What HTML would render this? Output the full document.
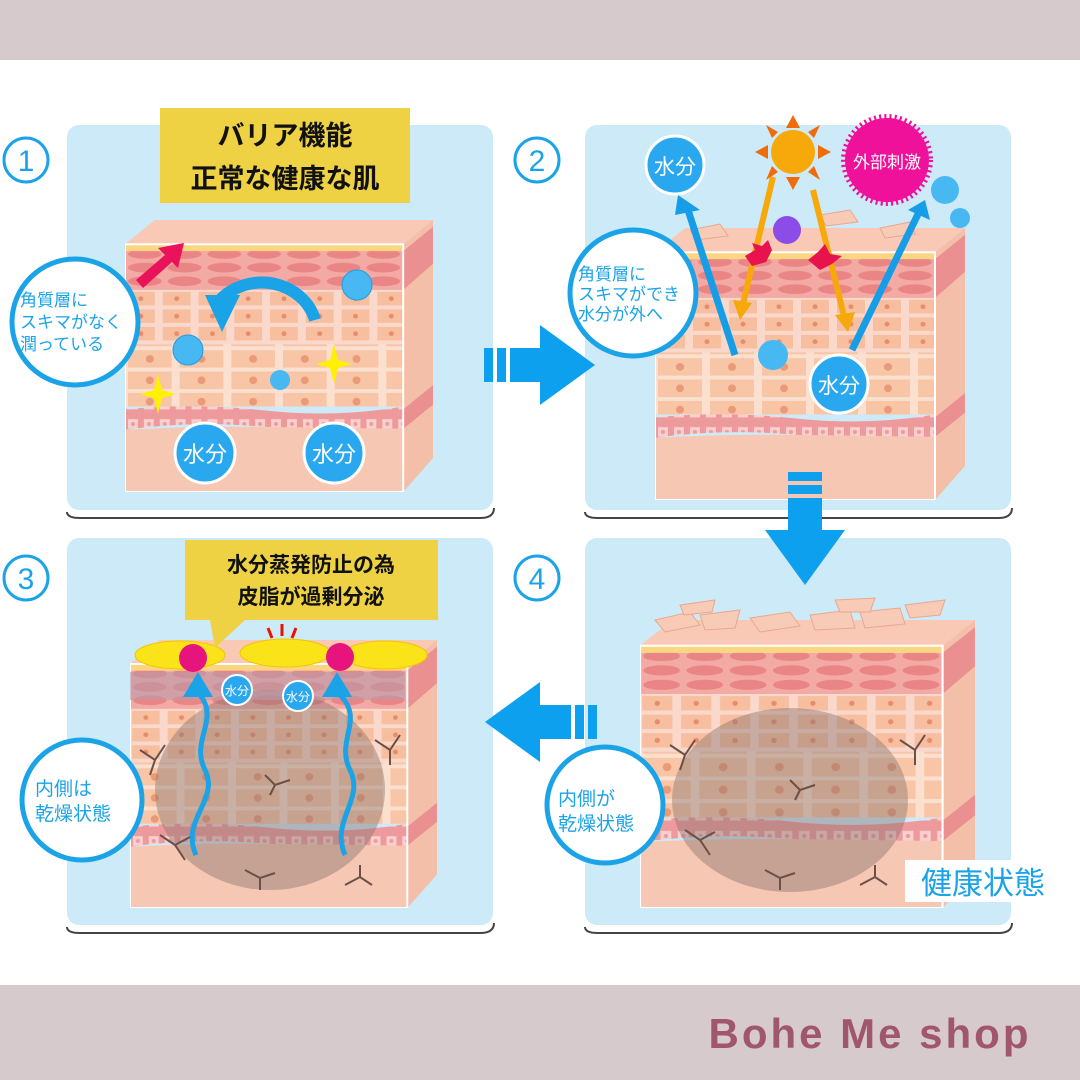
<!DOCTYPE html>
<html><head><meta charset="utf-8"><style>
html,body{margin:0;padding:0;width:1080px;height:1080px;overflow:hidden;background:#fff;font-family:"Liberation Sans","Noto Sans CJK JP",sans-serif}
</style></head><body>
<svg width="1080" height="1080" viewBox="0 0 1080 1080" xmlns="http://www.w3.org/2000/svg" font-family="'Liberation Sans','Noto Sans CJK JP',sans-serif">
<defs>
<pattern id="ov" width="40" height="14" patternUnits="userSpaceOnUse">
<rect width="40" height="14" fill="#f4aaa4"/>
<ellipse cx="20" cy="7" rx="17" ry="5" fill="#ea8585"/>
</pattern>
<pattern id="br" width="36" height="18" patternUnits="userSpaceOnUse">
<rect width="36" height="18" fill="#fad9cc"/>
<rect x="2" y="2" width="28" height="14" fill="#f7bf9f"/>
<circle cx="16" cy="9" r="2.5" fill="#e98c6e"/>
</pattern>
<pattern id="ce" width="52" height="22" patternUnits="userSpaceOnUse">
<rect width="52" height="22" fill="#fbe0d0"/>
<rect x="3" y="2" width="44" height="18" fill="#f8c6a6"/>
<circle cx="25" cy="11" r="4" fill="#eb9a78"/>
</pattern>
<pattern id="ba" width="16" height="20" patternUnits="userSpaceOnUse">
<rect width="16" height="20" fill="#ee9a9c"/>
<rect x="3" y="5" width="10" height="10" fill="#f9cfcf"/>
<circle cx="8" cy="10" r="2" fill="#ec9a9a"/>
</pattern>
<symbol id="skin" viewBox="0 0 310 280" preserveAspectRatio="none">
<polygon points="0,25 280,25 310,0 30,0" fill="#f9c9b6"/>
<rect x="0" y="25" width="280" height="7" fill="#fad681"/>
<rect x="0" y="32" width="280" height="40" fill="url(#ov)"/>
<rect x="0" y="72" width="280" height="56" fill="url(#br)"/>
<rect x="0" y="128" width="280" height="64" fill="url(#ce)"/>
<path d="M0,195 Q70,188 140,196 T280,192 L280,215 Q210,220 140,213 T0,216 Z" fill="url(#ba)"/>
<path d="M0,216 Q70,212 140,213 T280,215 L280,280 L0,280 Z" fill="#f6c7b2"/>
<polygon points="280,25 310,0 310,245 280,280" fill="#f4bfa8"/>
<polygon points="280,32 310,7 310,45 280,72" fill="#eb9090"/>
<polygon points="280,195 310,170 310,190 280,215" fill="#ea9090"/>
<rect x="0" y="25" width="280" height="255" fill="none" stroke="#fff" stroke-width="2"/>
</symbol>
</defs>
<rect width="1080" height="60" fill="#d6cacc"/>
<rect y="985" width="1080" height="95" fill="#d6cacc"/>
<text x="870" y="1048" font-size="42" font-weight="bold" fill="#a1566f" text-anchor="middle" font-family="'Liberation Sans',sans-serif" letter-spacing="3">Bohe Me shop</text>

<g fill="#cdeaf9">
<rect x="67" y="125" width="426" height="385" rx="12"/>
<rect x="585" y="125" width="426" height="385" rx="12"/>
<rect x="67" y="538" width="426" height="387" rx="12"/>
<rect x="585" y="538" width="426" height="387" rx="12"/>
</g>
<g fill="none" stroke="#444" stroke-width="2">
<path d="M67,512 Q67,518 80,518 L480,518 Q494,518 494,508"/>
<path d="M585,512 Q585,518 598,518 L998,518 Q1012,518 1012,508"/>
<path d="M67,927 Q67,933 80,933 L480,933 Q494,933 494,923"/>
<path d="M585,927 Q585,933 598,933 L998,933 Q1012,933 1012,923"/>
</g>

<g fill="none" stroke="#1ba3e8" stroke-width="3">
<circle cx="26" cy="160" r="22"/><circle cx="537" cy="160" r="22"/>
<circle cx="26" cy="578" r="22"/><circle cx="537" cy="578" r="22"/>
</g>
<g fill="#1ba3e8" font-size="30" text-anchor="middle">
<text x="26" y="171">1</text><text x="537" y="171">2</text>
<text x="26" y="589">3</text><text x="537" y="589">4</text>
</g>

<use href="#skin" x="125" y="220" width="308" height="272"/>
<use href="#skin" x="655" y="228" width="310" height="272"/>
<use href="#skin" x="130" y="640" width="307" height="268"/>
<use href="#skin" x="640" y="620" width="335" height="288"/>

<rect x="160" y="108" width="250" height="95" fill="#eed244"/>
<text x="285" y="145" font-size="27" font-weight="bold" text-anchor="middle" fill="#111">バリア機能</text>
<text x="285" y="188" font-size="27" font-weight="bold" text-anchor="middle" fill="#111">正常な健康な肌</text>
<path d="M136,280 L165,255 L158,248 L184,243 L178,268 L172,262 L143,288Z" fill="#e8135a"/>
<path d="M315,320 A55,50 0 0 0 220,300" fill="none" stroke="#1ba3e8" stroke-width="12"/>
<polygon points="205,295 240,295 222,332" fill="#1ba3e8"/>
<circle cx="357" cy="285" r="15" fill="#48b8f3" stroke="#1e9ee0"/>
<circle cx="188" cy="350" r="15" fill="#48b8f3" stroke="#1e9ee0"/>
<circle cx="280" cy="380" r="10" fill="#48b8f3"/>
<path d="M334,344 L338,360 L352,364 L338,368 L334,384 L330,368 L316,364 L330,360Z" fill="#fef200"/>
<path d="M158,374 L162,390 L176,394 L162,398 L158,414 L154,398 L140,394 L154,390Z" fill="#fef200"/>
<circle cx="205" cy="453" r="30" fill="#29a8ef" stroke="#fff" stroke-width="3"/>
<circle cx="334" cy="453" r="30" fill="#29a8ef" stroke="#fff" stroke-width="3"/>
<text x="205" y="462" font-size="22" fill="#fff" text-anchor="middle">水分</text>
<text x="334" y="462" font-size="22" fill="#fff" text-anchor="middle">水分</text>
<circle cx="75" cy="322" r="63" fill="#fff" stroke="#1ba3e8" stroke-width="5"/>
<g font-size="17" fill="#1ba3e8"><text x="20" y="306">角質層に</text><text x="20" y="328">スキマがなく</text><text x="20" y="350">潤っている</text></g>

<g fill="#0ca0ee"><rect x="484" y="348" width="9" height="34"/><rect x="497" y="348" width="9" height="34"/><rect x="510" y="348" width="30" height="34"/><polygon points="540,325 540,405 595,365"/></g>

<g fill="#f7cbb5" stroke="#e9a890" stroke-width="1">
<polygon points="690,230 720,224 728,236 696,240"/><polygon points="820,215 850,210 858,222 826,226"/><polygon points="880,228 910,222 915,234 885,238"/></g>
<line x1="735" y1="355" x2="688" y2="210" stroke="#159de8" stroke-width="7"/>
<polygon points="678,195 675,215 700,210" fill="#159de8"/>
<line x1="852" y1="350" x2="920" y2="210" stroke="#159de8" stroke-width="7"/>
<polygon points="925,200 908,210 930,220" fill="#159de8"/>
<line x1="773" y1="177" x2="742" y2="308" stroke="#f7a80a" stroke-width="6"/>
<polygon points="733,300 752,303 740,320" fill="#f7a80a"/>
<line x1="813" y1="190" x2="845" y2="320" stroke="#f7a80a" stroke-width="6"/>
<polygon points="835,315 855,312 848,332" fill="#f7a80a"/>
<circle cx="787" cy="230" r="14" fill="#8b4ce8"/>
<path d="M745,256 L755,250 L752,243 L762,246 L768,240 L772,250 L766,262 L752,266Z" fill="#e8134d"/>
<path d="M808,260 L818,252 L825,244 L830,254 L842,256 L832,264 L820,270Z" fill="#e8134d"/>
<g fill="#ef6c0a"><polygon points="793,115 786,128 800,128"/><polygon points="793,190 786,177 800,177"/><polygon points="755,152 768,145 768,159"/><polygon points="831,152 818,145 818,159"/><polygon points="766,125 778,132 772,138"/><polygon points="820,125 808,132 814,138"/><polygon points="766,180 778,172 772,166"/><polygon points="820,180 808,172 814,166"/></g>
<circle cx="793" cy="152" r="22" fill="#f7a80a"/>
<circle cx="887" cy="160" r="42" fill="#f0119b" stroke="#f0119b" stroke-width="8" stroke-dasharray="2 3"/>
<text x="887" y="168" font-size="17" fill="#fff" text-anchor="middle">外部刺激</text>
<circle cx="945" cy="190" r="14" fill="#48b8f3"/><circle cx="960" cy="218" r="10" fill="#48b8f3"/>
<circle cx="675" cy="165" r="29" fill="#29a8ef" stroke="#fff" stroke-width="3"/>
<text x="675" y="174" font-size="21" fill="#fff" text-anchor="middle">水分</text>
<circle cx="773" cy="355" r="15" fill="#48b8f3"/>
<circle cx="839" cy="384" r="29" fill="#29a8ef" stroke="#fff" stroke-width="3"/>
<text x="839" y="393" font-size="21" fill="#fff" text-anchor="middle">水分</text>
<circle cx="633" cy="293" r="63" fill="#fff" stroke="#1ba3e8" stroke-width="5"/>
<g font-size="17" fill="#1ba3e8"><text x="578" y="280">角質層に</text><text x="578" y="300">スキマができ</text><text x="578" y="320">水分が外へ</text></g>

<g fill="#0ca0ee"><rect x="788" y="472" width="34" height="9"/><rect x="788" y="485" width="34" height="9"/><rect x="788" y="498" width="34" height="32"/><polygon points="765,530 845,530 805,585"/></g>

<ellipse cx="790" cy="800" rx="118" ry="92" fill="#8c7570" opacity="0.45"/>
<g fill="#f7cbb5" stroke="#e9a890" stroke-width="1">
<polygon points="655,620 690,612 700,625 665,632"/><polygon points="700,615 740,610 735,628 705,630"/><polygon points="750,618 790,612 800,626 760,632"/><polygon points="810,615 850,610 855,628 815,630"/><polygon points="860,612 900,608 905,624 865,628"/><polygon points="835,600 875,598 870,612 840,612"/><polygon points="905,605 945,600 940,615 910,618"/><polygon points="680,605 715,600 712,612 684,615"/></g>
<g stroke="#6b5048" stroke-width="2" fill="none">
<path d="M670,745 l15,10 l10,-15 M685,755 l-5,15"/><path d="M900,740 l15,10 l10,-15 M915,750 l0,15"/>
<path d="M790,780 l10,10 l15,-5 M800,790 l-5,10"/><path d="M685,830 l15,10 l10,15 M700,840 l15,-8"/>
<path d="M765,870 l15,8 l15,-5 M780,878 l0,12"/><path d="M860,885 l15,-8 l12,8 M875,877 l0,-12"/></g>
<rect x="905" y="860" width="155" height="42" fill="#fff"/>
<text x="983" y="894" font-size="31" fill="#1ba3e8" text-anchor="middle">健康状態</text>
<circle cx="605" cy="805" r="58" fill="#fff" stroke="#1ba3e8" stroke-width="5"/>
<g font-size="19" fill="#1ba3e8"><text x="558" y="805">内側が</text><text x="558" y="830">乾燥状態</text></g>

<g fill="#0ca0ee"><rect x="588" y="705" width="9" height="34"/><rect x="575" y="705" width="9" height="34"/><rect x="540" y="705" width="31" height="34"/><polygon points="540,682 540,762 485,722"/></g>

<ellipse cx="270" cy="790" rx="115" ry="100" fill="#8c7570" opacity="0.45"/>
<rect x="130" y="672" width="275" height="28" fill="#b89aa8" opacity="0.6"/>
<g fill="#fbe31a" stroke="#f2c500"><ellipse cx="180" cy="655" rx="45" ry="14"/><ellipse cx="285" cy="653" rx="45" ry="14"/><ellipse cx="385" cy="655" rx="42" ry="14"/></g>
<circle cx="193" cy="658" r="14" fill="#e8147d"/><circle cx="340" cy="657" r="14" fill="#e8147d"/>
<g stroke="#e81400" stroke-width="3"><line x1="272" y1="638" x2="268" y2="628"/><line x1="282" y1="636" x2="282" y2="624"/><line x1="292" y1="638" x2="296" y2="628"/></g>
<rect x="185" y="540" width="253" height="80" fill="#eed244"/>
<polygon points="210,620 245,620 215,648" fill="#eed244"/>
<text x="311" y="572" font-size="21" font-weight="bold" text-anchor="middle" fill="#111">水分蒸発防止の為</text>
<text x="311" y="604" font-size="21" font-weight="bold" text-anchor="middle" fill="#111">皮脂が過剰分泌</text>
<g fill="none" stroke="#1ba3e8" stroke-width="5">
<path d="M196,855 C180,820 220,800 205,770 C190,740 220,720 200,695"/>
<path d="M345,855 C330,820 365,800 350,770 C335,740 365,720 340,695"/></g>
<polygon points="183,697 213,697 198,672" fill="#1ba3e8"/><polygon points="322,697 352,697 337,672" fill="#1ba3e8"/>
<circle cx="237" cy="690" r="15" fill="#29a8ef" stroke="#fff" stroke-width="2"/><circle cx="298" cy="696" r="15" fill="#29a8ef" stroke="#fff" stroke-width="2"/>
<text x="237" y="695" font-size="12" fill="#fff" text-anchor="middle">水分</text><text x="298" y="701" font-size="12" fill="#fff" text-anchor="middle">水分</text>
<g stroke="#6b5048" stroke-width="2" fill="none">
<path d="M140,750 l15,10 l10,-15 M155,760 l-5,15"/><path d="M375,740 l15,10 l10,-15 M390,750 l0,15"/>
<path d="M265,775 l10,10 l15,-5 M275,785 l-5,10"/><path d="M160,835 l15,10 l10,15 M175,845 l15,-8"/>
<path d="M245,870 l15,8 l15,-5 M260,878 l0,12"/><path d="M345,885 l15,-8 l12,8 M360,877 l0,-12"/></g>
<circle cx="82" cy="800" r="60" fill="#fff" stroke="#1ba3e8" stroke-width="5"/>
<g font-size="19" fill="#1ba3e8"><text x="35" y="795">内側は</text><text x="35" y="820">乾燥状態</text></g>
</svg>
</body></html>
